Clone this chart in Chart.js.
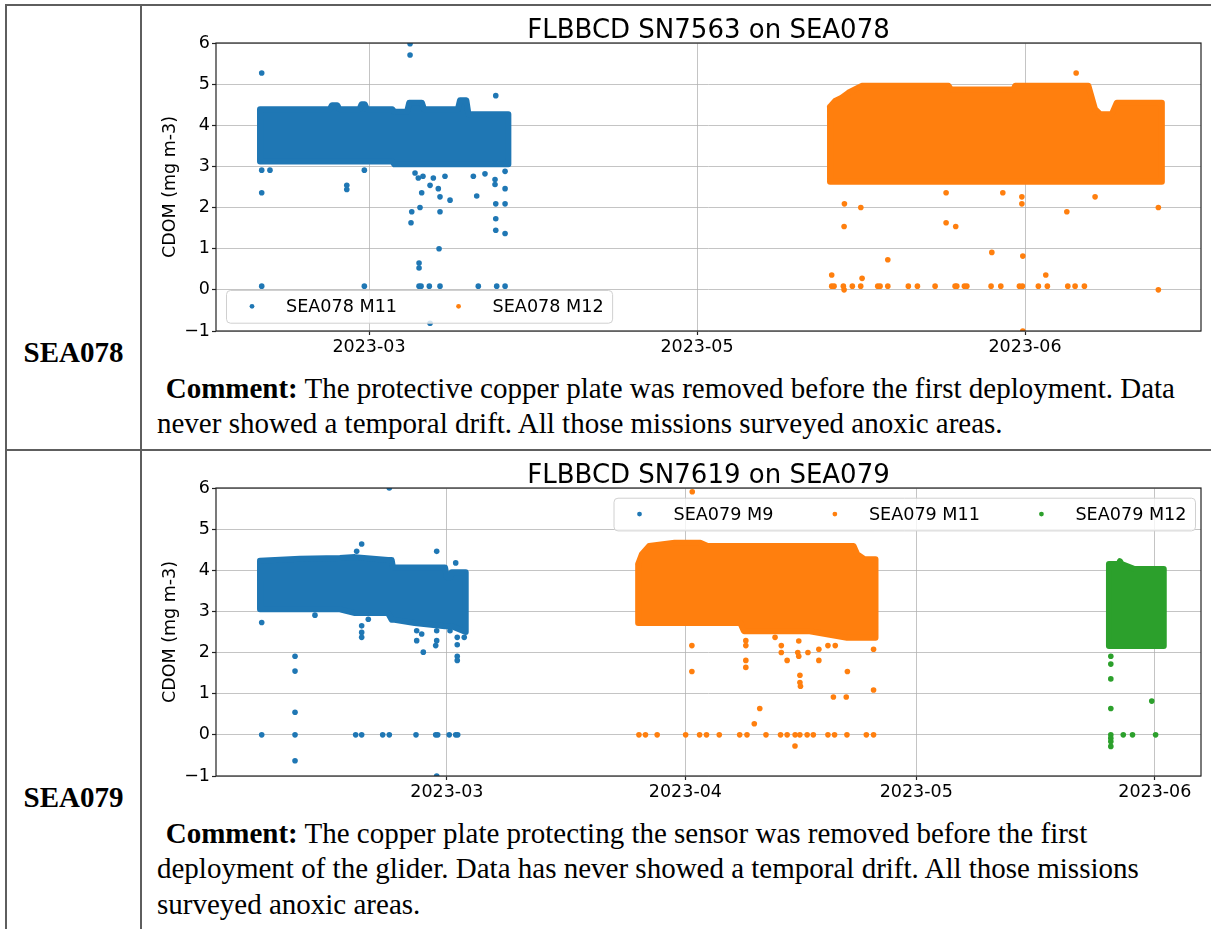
<!DOCTYPE html>
<html>
<head>
<meta charset="utf-8">
<title>FLBBCD CDOM – SEA078 / SEA079</title>
<script src="https://cdn.jsdelivr.net/npm/chart.js@4.4.1/dist/chart.umd.min.js"></script>
<style>
  html, body { margin: 0; padding: 0; background: #fff; }
  body { width: 1211px; height: 929px; position: relative; overflow: hidden; }
  .rule { position: absolute; background: #5e5e5e; }
  .name {
    position: absolute; left: 6px; width: 135px; text-align: center;
    font-family: "Liberation Serif", "Times New Roman", serif;
    font-weight: bold; font-size: 29px; line-height: 29px; color: #000;
  }
  .comment {
    position: absolute; left: 157px;
    font-family: "Liberation Serif", "Times New Roman", serif;
    font-size: 29px; line-height: 35.7px; color: #000;
    white-space: nowrap;
  }
  .comment .first { padding-left: 8.7px; }
  .chartbox { position: absolute; left: 141px; width: 1070px; height: 360px; }
</style>
</head>
<body>

<!-- table rules -->
<div class="rule" style="left:5px;top:4px;width:1206px;height:2px;"></div>
<div class="rule" style="left:5px;top:4px;width:2px;height:925px;"></div>
<div class="rule" style="left:140px;top:4px;width:2px;height:925px;"></div>
<div class="rule" style="left:5px;top:449px;width:1206px;height:2px;"></div>

<div class="name" style="top:338px;">SEA078</div>
<div class="name" style="top:783px;">SEA079</div>

<div class="chartbox" style="top:0px;"><canvas id="chart078" width="1070" height="360"></canvas></div>
<div class="chartbox" style="top:445px;"><canvas id="chart079" width="1070" height="360"></canvas></div>

<div class="comment" style="top:370.7px;">
  <span class="first"><b>Comment:</b> The protective copper plate was removed before the first deployment. Data</span><br>
  never showed a temporal drift. All those missions surveyed anoxic areas.
</div>
<div class="comment" style="top:815.7px;">
  <span class="first"><b>Comment:</b> The copper plate protecting the sensor was removed before the first</span><br>
  deployment of the glider. Data has never showed a temporal drift. All those missions<br>
  surveyed anoxic areas.
</div>

<script>
// ---------------------------------------------------------------------------
// Colours and fonts
// ---------------------------------------------------------------------------
const FONT = '"DejaVu Sans", sans-serif';
const BLUE = '#1f77b4', ORANGE = '#ff7f0e', GREEN = '#2ca02c';

// ---------------------------------------------------------------------------
// SEA078 – FLBBCD SN7563   (x in days of 2023, y = CDOM mg m-3)
// ---------------------------------------------------------------------------
const sea078Title = 'FLBBCD SN7563 on SEA078';
const sea078Names = ['SEA078 M11', 'SEA078 M12'];
const sea078TickDays = [60, 91, 122];
const sea078TickLabels = ['2023-03', '2023-05', '2023-06'];
const sea078DayRange = [45.54, 138.63];

// M11: upper / lower edge of the dense cloud of samples
const sea078M11Days = [49.7, 56.3, 56.5, 57.0, 57.2, 59.1, 59.3, 59.6, 59.8, 62.2, 62.4, 63.6, 63.8, 65.0, 65.2, 68.4, 68.6, 69.2, 69.4, 73.17];
const sea078M11High = [4.39, 4.39, 4.49, 4.49, 4.39, 4.39, 4.51, 4.51, 4.39, 4.39, 4.33, 4.33, 4.55, 4.55, 4.39, 4.39, 4.61, 4.61, 4.27, 4.27];
const sea078M11Low  = [3.12, 3.12, 3.12, 3.12, 3.12, 3.12, 3.12, 3.12, 3.12, 3.12, 3.05, 3.05, 3.05, 3.05, 3.05, 3.05, 3.05, 3.05, 3.05, 3.05];
// M11: isolated samples
const sea078M11OutDays = [49.86, 63.88, 63.88, 71.98, 49.86, 50.64, 49.86, 57.9, 57.9, 59.56, 63.97, 64.04, 64.82, 64.98, 65.77, 66.55, 66.71, 66.71, 66.62, 67.66, 70.18, 70.96, 72.86, 71.98, 72.86, 71.98, 71.98, 72.86, 64.73, 64.73, 65.77, 64.35, 64.66, 65.1, 66.08, 67.18, 69.86, 71.91, 71.91, 72.86, 49.86, 59.56, 64.73, 64.92, 65.70, 66.71, 70.33, 72.07, 72.86];
const sea078M11OutVals = [5.27, 5.98, 5.71, 4.72, 2.91, 2.91, 2.36, 2.54, 2.44, 2.91, 1.63, 1.90, 2.00, 2.36, 2.54, 2.46, 2.26, 1.90, 1.00, 2.18, 2.28, 2.82, 2.46, 2.09, 2.09, 1.73, 1.45, 1.37, 0.65, 0.53, -0.81, 2.84, 2.72, 2.76, 2.72, 2.76, 2.76, 2.68, 2.56, 2.88, 0.09, 0.09, 0.09, 0.09, 0.09, 0.09, 0.09, 0.09, 0.09];

// M12
const sea078M12Days = [103.57, 104.05, 104.68, 105.3, 106.57, 114.76, 115.0, 120.9, 121.07, 127.99, 128.62, 129.1, 130.2, 130.67, 134.93];
const sea078M12High = [4.45, 4.59, 4.67, 4.79, 4.96, 4.96, 4.87, 4.87, 4.96, 4.96, 4.39, 4.27, 4.27, 4.55, 4.55];
const sea078M12Low  = [2.63, 2.63, 2.63, 2.63, 2.63, 2.63, 2.63, 2.63, 2.63, 2.63, 2.63, 2.63, 2.63, 2.63, 2.63];
const sea078M12OutDays = [126.83, 104.93, 104.9, 106.48, 114.54, 115.45, 109.03, 118.86, 121.79, 121.7, 119.9, 125.95, 128.62, 134.6, 103.73, 106.6, 123.96, 104.9, 134.6, 121.79, 114.54, 121.7, 103.73, 103.95, 104.83, 105.68, 106.47, 108.08, 108.3, 109.03, 110.97, 111.83, 113.5, 115.39, 115.55, 116.27, 116.5, 118.79, 119.71, 121.47, 121.75, 123.26, 124.11, 126.04, 126.73, 127.61];
const sea078M12OutVals = [5.27, 2.09, 1.54, 2.00, 1.63, 1.54, 0.73, 0.91, 0.82, 2.09, 2.36, 1.90, 2.26, 2.00, 0.36, 0.28, 0.36, 0.0, 0.0, -1.0, 2.36, 2.26, 0.09, 0.09, 0.09, 0.09, 0.09, 0.09, 0.09, 0.09, 0.09, 0.09, 0.09, 0.09, 0.09, 0.09, 0.09, 0.09, 0.09, 0.09, 0.09, 0.09, 0.09, 0.09, 0.09, 0.09];

// ---------------------------------------------------------------------------
// SEA079 – FLBBCD SN7619
// ---------------------------------------------------------------------------
const sea079Title = 'FLBBCD SN7619 on SEA079';
const sea079Names = ['SEA079 M9', 'SEA079 M11', 'SEA079 M12'];
const sea079TickDays = [60, 91, 121, 152];
const sea079TickLabels = ['2023-03', '2023-04', '2023-05', '2023-06'];
const sea079DayRange = [30, 158];

// M9
const sea079M9Days = [35.72, 40.9, 46.1, 48.06, 52.35, 52.83, 53.0, 55.8, 59.76, 60.0, 60.5, 60.62, 62.45];
const sea079M9High = [4.23, 4.28, 4.30, 4.32, 4.25, 4.25, 4.07, 4.07, 4.07, 3.83, 3.83, 3.95, 3.95];
const sea079M9Low  = [3.05, 3.05, 3.05, 2.96, 2.96, 2.80, 2.80, 2.72, 2.64, 2.64, 2.64, 2.64, 2.50];
const sea079M9OutDays = [52.52, 48.93, 48.28, 58.68, 61.15, 35.94, 40.27, 40.27, 40.27, 40.27, 58.68, 56.94, 48.93, 48.93, 48.93, 56.08, 56.08, 56.73, 58.68, 58.68, 58.55, 60.41, 61.35, 61.35, 61.35, 61.35, 62.26, 49.79, 42.86, 35.94, 40.27, 48.15, 48.93, 51.66, 52.52, 55.99, 58.55, 58.81, 60.31, 61.15, 61.41];
const sea079M9OutVals = [6.0, 4.64, 4.46, 4.46, 4.18, 2.73, 1.91, 1.55, 0.55, -0.63, -1.0, 2.01, 2.65, 2.49, 2.37, 2.53, 2.29, 2.45, 2.53, 2.29, 2.17, 2.53, 2.37, 2.19, 1.91, 1.81, 2.37, 2.81, 2.91, 0, 0, 0, 0, 0, 0, 0, 0, 0, 0, 0, 0];

// M11
const sea079M11Days = [84.86, 85.34, 86.29, 89.6, 92.93, 93.88, 98.14, 98.6, 107.16, 112.0, 112.85, 113.32, 114.27, 115.7];
const sea079M11High = [4.15, 4.39, 4.59, 4.67, 4.67, 4.59, 4.59, 4.59, 4.59, 4.59, 4.59, 4.39, 4.27, 4.27];
const sea079M11Low  = [2.72, 2.72, 2.72, 2.72, 2.72, 2.72, 2.72, 2.52, 2.52, 2.36, 2.36, 2.36, 2.36, 2.36];
const sea079M11OutDays = [91.89, 91.84, 91.84, 98.85, 98.85, 98.85, 98.85, 100.66, 99.95, 102.65, 103.46, 103.46, 104.22, 105.73, 105.73, 105.6, 105.88, 105.88, 105.95, 106.92, 108.34, 108.34, 109.52, 110.47, 110.23, 111.9, 112.05, 115.45, 115.45, 105.24, 84.96, 85.81, 87.33, 91.03, 92.84, 93.74, 95.4, 98.05, 99.0, 101.47, 103.36, 104.22, 105.26, 105.87, 106.82, 107.62, 109.52, 110.38, 111.99, 114.51, 115.45];
const sea079M11OutVals = [5.91, 2.17, 1.54, 2.29, 2.17, 1.81, 1.64, 0.64, 0.27, 2.37, 2.17, 2.00, 1.81, 2.28, 1.91, 2.00, 1.45, 1.27, 1.18, 2.00, 2.08, 1.81, 2.17, 2.17, 0.92, 0.92, 1.54, 2.08, 1.09, -0.27, 0, 0, 0, 0, 0, 0, 0, 0, 0, 0, 0, 0, 0, 0, 0, 0, 0, 0, 0, 0, 0];

// M12
const sea079M12Days = [146.04, 147.3, 147.46, 147.7, 149.36, 153.16];
const sea079M12High = [4.15, 4.15, 4.22, 4.15, 4.03, 4.03];
const sea079M12Low  = [2.16, 2.16, 2.16, 2.16, 2.16, 2.16];
const sea079M12OutDays = [146.28, 146.28, 146.28, 146.28, 151.6, 146.28, 146.28, 146.28, 146.28, 147.9, 149.1, 152.1];
const sea079M12OutVals = [1.91, 1.72, 1.36, 0.64, 0.82, 0.0, -0.08, -0.16, -0.28, 0, 0, 0];

// y axis
const cdomTicks = [-1, 0, 1, 2, 3, 4, 5, 6];
const cdomLabel = 'CDOM (mg m-3)';

// ---------------------------------------------------------------------------
// helpers
// ---------------------------------------------------------------------------
function cloudOutline(days, hi, lo) {
  const pts = days.map((d, i) => ({ x: d, y: hi[i] }));
  for (let i = days.length - 1; i >= 0; i--) pts.push({ x: days[i], y: lo[i] });
  pts.push({ x: days[0], y: hi[0] });
  return pts;
}
function xy(days, vals) { return days.map((d, i) => ({ x: d, y: vals[i] })); }

// frame, title and an in-axes legend in the matplotlib manner
const axesDecor = {
  id: 'axesDecor',
  afterDraw(chart, args, opts) {
    const { ctx, chartArea: a } = chart;
    ctx.save();
    // spines
    ctx.strokeStyle = '#222';
    ctx.lineWidth = 1.2;
    ctx.strokeRect(a.left, a.top, a.right - a.left, a.bottom - a.top);
    // title
    ctx.fillStyle = '#000';
    ctx.font = '26px ' + FONT;
    ctx.textAlign = 'center';
    ctx.textBaseline = 'alphabetic';
    ctx.fillText(opts.title, (a.left + a.right) / 2, a.top - 5.5);
    // legend
    const fs = 17.6, pad = 8.5, handle = 35, gap = 16.5, colSp = 44, boxH = 32.7;
    ctx.font = fs + 'px ' + FONT;
    const widths = opts.items.map(it => ctx.measureText(it.label).width);
    let boxW = pad * 2 + colSp * (opts.items.length - 1);
    widths.forEach(w => { boxW += handle + gap + w; });
    let x0, y0;
    if (opts.corner === 'lower left') { x0 = a.left + 10; y0 = a.bottom - 8.3 - boxH; }
    else { x0 = a.right - 6 - boxW; y0 = a.top + 9.7; }
    ctx.beginPath();
    ctx.roundRect(x0 + 0.5, y0 + 0.5, boxW, boxH, 4);
    ctx.fillStyle = 'rgba(255,255,255,0.8)';
    ctx.fill();
    ctx.strokeStyle = '#d0d0d0';
    ctx.lineWidth = 1;
    ctx.stroke();
    let x = x0 + pad;
    const yc = y0 + boxH / 2;
    ctx.textAlign = 'left';
    ctx.textBaseline = 'middle';
    opts.items.forEach((it, i) => {
      ctx.beginPath();
      ctx.arc(x + handle / 2, yc, 2.4, 0, Math.PI * 2);
      ctx.fillStyle = it.color;
      ctx.fill();
      ctx.fillStyle = '#000';
      ctx.fillText(it.label, x + handle + gap, yc + 1);
      x += handle + gap + widths[i] + colSp;
    });
    ctx.restore();
  }
};

function buildChart(canvasId, spec) {
  const datasets = [];
  spec.series.forEach(s => {
    datasets.push({
      type: 'line', label: s.name,
      data: cloudOutline(s.days, s.high, s.low),
      borderColor: s.color, backgroundColor: s.color, borderWidth: 6,
      borderJoinStyle: 'round', borderCapStyle: 'round',
      pointRadius: 0, tension: 0, fill: 'shape', clip: 0
    });
    datasets.push({
      type: 'scatter', label: s.name,
      data: xy(s.outDays, s.outVals),
      backgroundColor: s.color, borderWidth: 0, pointRadius: 2.8, clip: 0
    });
  });

  const tickFont = { family: FONT, size: 17.5 };
  return new Chart(document.getElementById(canvasId), {
    type: 'scatter',
    data: { datasets },
    options: {
      responsive: false, animation: false, events: [],
      layout: { padding: { top: 43, right: 10, left: 0, bottom: 0 } },
      plugins: {
        legend: { display: false }, tooltip: { enabled: false },
        axesDecor: {
          title: spec.title, corner: spec.legendCorner,
          items: spec.series.map(s => ({ label: s.name, color: s.color }))
        }
      },
      scales: {
        x: {
          type: 'linear', z: 1,
          min: spec.range[0], max: spec.range[1],
          afterBuildTicks: sc => { sc.ticks = spec.tickDays.map(v => ({ value: v })); },
          afterFit: sc => { sc.height = 29; },
          ticks: {
            autoSkip: false, maxRotation: 0, padding: 2, color: '#000', font: tickFont,
            callback: (v, i) => spec.tickLabels[i]
          },
          grid: { color: 'rgba(176,176,176,0.75)', lineWidth: 1, drawTicks: true, tickLength: 4, tickColor: '#222', tickWidth: 1.2 },
          border: { display: false }
        },
        y: {
          type: 'linear', z: 1, min: -1, max: 6,
          afterBuildTicks: sc => { sc.ticks = cdomTicks.map(v => ({ value: v })); },
          afterFit: sc => { sc.width = 75; },
          ticks: {
            padding: 2, color: '#000', font: tickFont,
            callback: v => (v < 0 ? '\u2212' + Math.abs(v) : String(v))
          },
          title: { display: true, text: cdomLabel, color: '#000', font: tickFont, padding: { top: 18.5, bottom: 0 } },
          grid: { color: 'rgba(176,176,176,0.75)', lineWidth: 1, drawTicks: true, tickLength: 4, tickColor: '#222', tickWidth: 1.2 },
          border: { display: false }
        }
      }
    },
    plugins: [axesDecor]
  });
}

buildChart('chart078', {
  title: sea078Title, range: sea078DayRange,
  tickDays: sea078TickDays, tickLabels: sea078TickLabels, legendCorner: 'lower left',
  series: [
    { name: sea078Names[0], color: BLUE, days: sea078M11Days, high: sea078M11High, low: sea078M11Low, outDays: sea078M11OutDays, outVals: sea078M11OutVals },
    { name: sea078Names[1], color: ORANGE, days: sea078M12Days, high: sea078M12High, low: sea078M12Low, outDays: sea078M12OutDays, outVals: sea078M12OutVals }
  ]
});

buildChart('chart079', {
  title: sea079Title, range: sea079DayRange,
  tickDays: sea079TickDays, tickLabels: sea079TickLabels, legendCorner: 'upper right',
  series: [
    { name: sea079Names[0], color: BLUE, days: sea079M9Days, high: sea079M9High, low: sea079M9Low, outDays: sea079M9OutDays, outVals: sea079M9OutVals },
    { name: sea079Names[1], color: ORANGE, days: sea079M11Days, high: sea079M11High, low: sea079M11Low, outDays: sea079M11OutDays, outVals: sea079M11OutVals },
    { name: sea079Names[2], color: GREEN, days: sea079M12Days, high: sea079M12High, low: sea079M12Low, outDays: sea079M12OutDays, outVals: sea079M12OutVals }
  ]
});
</script>
</body>
</html>
